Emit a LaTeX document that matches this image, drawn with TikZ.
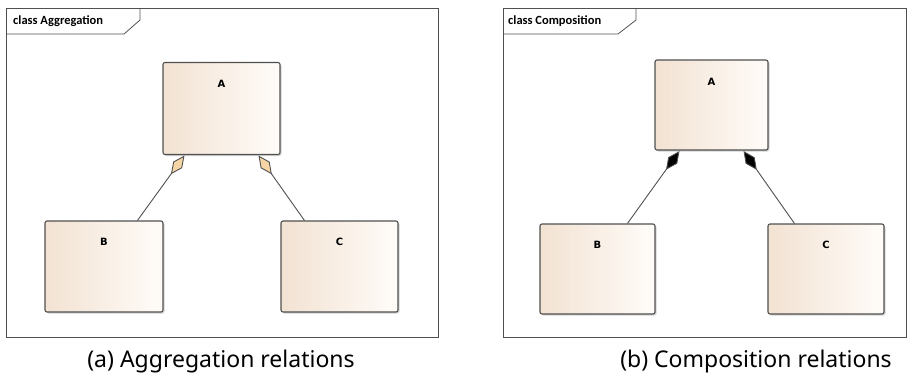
\documentclass[tikz,border=0pt]{standalone}
\usepackage{fontspec}
\setmainfont{Noto Sans}
\newfontfamily\tabfont{Carlito}
\newfontfamily\lblfont{DejaVu Sans}
\usetikzlibrary{arrows.meta,shadows,calc}
\definecolor{boxleft}{RGB}{242,226,210}
\definecolor{boxright}{RGB}{255,252,249}
\definecolor{edge}{RGB}{80,80,80}
\definecolor{aggfill}{RGB}{245,212,165}
\tikzset{
  cls/.style={rectangle, rounded corners=2pt, draw=edge, line width=1.1pt,
    left color=boxleft, right color=boxright,
    drop shadow={shadow xshift=1.5pt, shadow yshift=-1.5pt, opacity=0.35},
    inner sep=0pt},
  frame/.style={draw=edge, line width=0.8pt},
  tabtext/.style={font=\tabfont\bfseries\fontsize{12.5}{14}\selectfont, anchor=west, inner sep=0pt},
  clslabel/.style={font=\lblfont\bfseries\fontsize{10}{12}\selectfont, inner sep=0pt},
  caption/.style={font=\fontsize{23}{26}\selectfont, inner sep=0pt, anchor=base},
  conn/.style={draw=edge, line width=0.9pt},
  agg/.style={conn, -{Diamond[length=23pt,width=11pt,fill=aggfill,line width=0.9pt]}},
  comp/.style={conn, -{Diamond[length=23pt,width=11pt,fill=black,line width=0.9pt]}},
}
\begin{document}
\begin{tikzpicture}[x=1pt,y=-1pt]
\useasboundingbox (0,0) rectangle (911,376);
% ---------- left panel ----------
\draw[frame] (6,8) rectangle (438,337);
\draw[frame] (6,34) -- (124,34) -- (140,20) -- (140,8);
\node[tabtext] (tabA) at (13,21) {class Aggregation};
\node[cls, minimum width=117pt, minimum height=92pt] (A1) at (221.5,108.5) {};
\node[cls, minimum width=118pt, minimum height=91pt] (B1) at (104,266.5) {};
\node[cls, minimum width=117pt, minimum height=91pt] (C1) at (339.5,266.5) {};
\node[clslabel] (A1l) at ($(A1.north)+(0,22)$) {A};
\node[clslabel] (B1l) at ($(B1.north)+(0,21)$) {B};
\node[clslabel] (C1l) at ($(C1.north)+(0,21)$) {C};
\coordinate (A1a) at ($(A1.south west)+(22,0.5)$);
\coordinate (A1b) at ($(A1.south east)+(-22,0.5)$);
\coordinate (B1t) at ($(B1.north west)+(93,0)$);
\coordinate (C1t) at ($(C1.north west)+(24,0)$);
\draw[agg] (B1t) -- (A1a);
\draw[agg] (C1t) -- (A1b);
\node[caption] (capa) at (221,367) {(a) Aggregation relations};
% ---------- right panel ----------
\draw[frame] (503,8) rectangle (906,337);
\draw[frame] (503,34) -- (618,34) -- (636,20) -- (636,8);
\node[tabtext] (tabB) at (508,21) {class Composition};
\node[cls, minimum width=113pt, minimum height=90pt] (A2) at (711.5,105) {};
\node[cls, minimum width=115pt, minimum height=90pt] (B2) at (597.5,269) {};
\node[cls, minimum width=116pt, minimum height=90pt] (C2) at (826,269) {};
\node[clslabel] (A2l) at ($(A2.north)+(0,22)$) {A};
\node[clslabel] (B2l) at ($(B2.north)+(0,21)$) {B};
\node[clslabel] (C2l) at ($(C2.north)+(0,21)$) {C};
\coordinate (A2a) at ($(A2.south west)+(25,0.5)$);
\coordinate (A2b) at ($(A2.south east)+(-25,0.5)$);
\coordinate (B2t) at ($(B2.north west)+(88,0)$);
\coordinate (C2t) at ($(C2.north west)+(27,0)$);
\draw[comp] (B2t) -- (A2a);
\draw[comp] (C2t) -- (A2b);
\node[caption] (capb) at (756,367) {(b) Composition relations};
\end{tikzpicture}
\end{document}
